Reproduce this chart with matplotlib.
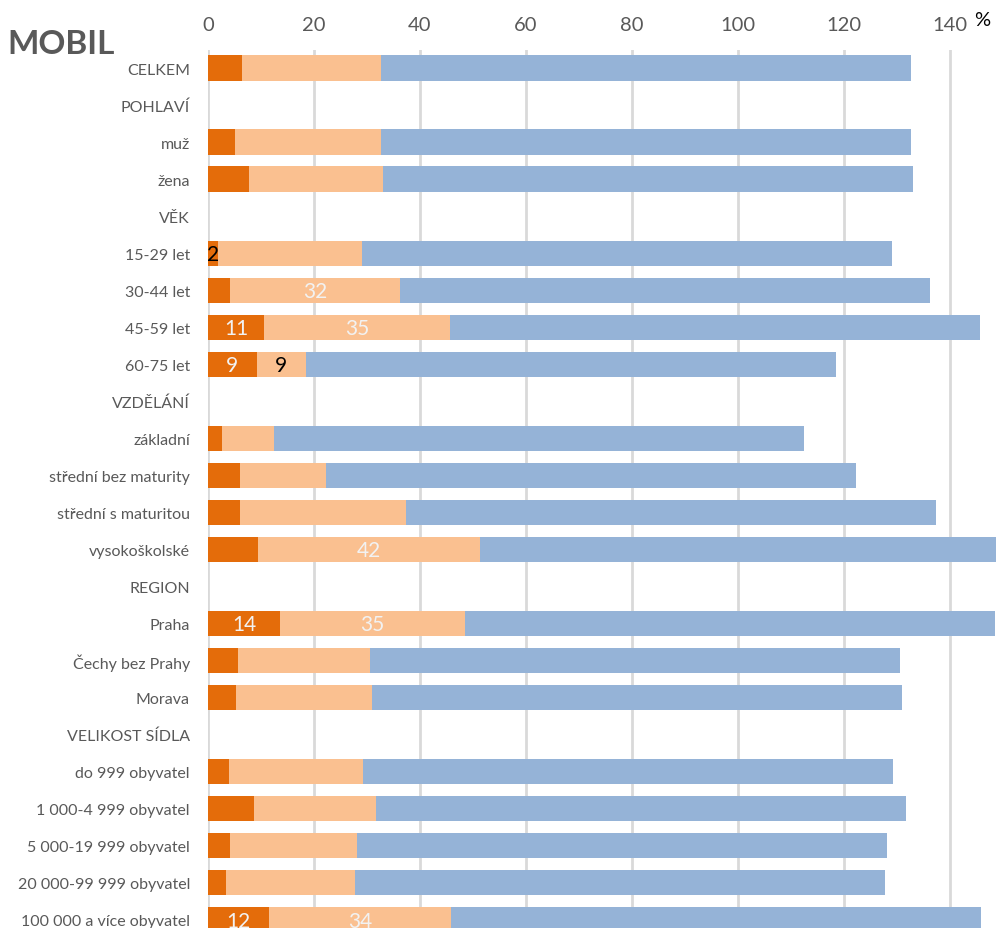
import matplotlib.pyplot as plt
import numpy as np

plt.rcParams['font.family'] = ['Lato', 'DejaVu Sans']

categories = ['CELKEM', 'POHLAVÍ', 'muž', 'žena', 'VĚK', '15-29 let', '30-44 let',
              '45-59 let', '60-75 let', 'VZDĚLÁNÍ', 'základní', 'střední bez maturity',
              'střední s maturitou', 'vysokoškolské', 'REGION', 'Praha',
              'Čechy bez Prahy', 'Morava', 'VELIKOST SÍDLA', 'do 999 obyvatel',
              '1 000-4 999 obyvatel', '5 000-19 999 obyvatel', '20 000-99 999 obyvatel',
              '100 000 a více obyvatel']
nan = np.nan
dark = [6.4, nan, 5.1, 7.8, nan, 1.9, 4.2, 10.6, 9.2, nan, 2.7, 6.0, 6.0, 9.5, nan,
        13.6, 5.7, 5.3, nan, 3.9, 8.7, 4.2, 3.4, 11.6]
light = [26.3, nan, 27.5, 25.3, nan, 27.2, 32.0, 35.1, 9.3, nan, 9.8, 16.3, 31.4, 41.9, nan,
         34.8, 24.9, 25.6, nan, 25.3, 23.0, 24.0, 24.3, 34.2]
blue = [100, nan, 100, 100, nan, 100, 100, 100, 100, nan, 100, 100, 100, 100, nan,
        100, 100, 100, nan, 100, 100, 100, 100, 100]
dark_labels = ['', '', '', '', '', '2', '', '11', '9', '', '', '', '', '', '',
               '14', '', '', '', '', '', '', '', '12']
light_labels = ['', '', '', '', '', '', '32', '35', '9', '', '', '', '', '42', '',
                '35', '', '', '', '', '', '', '', '34']
# black text for these labels, the rest is white
dark_black = ['2']
light_black_rows = [8]

c_dark = '#E46C0A'
c_light = '#FAC090'
c_blue = '#95B3D7'
grey = '#595959'

W, H = 996, 929
fig = plt.figure(figsize=(W / 100, H / 100), dpi=100)
px = 5.3  # pixels per percent
ax = fig.add_axes([208 / W, (929 - 939) / H, 150 * px / W, (939 - 50.5) / H])

y = np.arange(len(categories))
d = np.array(dark)
l = np.array(light)
b = np.array(blue)
h = 0.68
ax.barh(y, d, height=h, color=c_dark, zorder=3)
ax.barh(y, l, left=d, height=h, color=c_light, zorder=3)
ax.barh(y, b, left=d + l, height=h, color=c_blue, zorder=3)

for i in range(len(categories)):
    if dark_labels[i]:
        col = 'black' if dark_labels[i] in dark_black else '#F2F2F2'
        ax.text(d[i] / 2, y[i] + 0.03, dark_labels[i], ha='center', va='center',
                fontsize=15, color=col, zorder=4)
    if light_labels[i]:
        col = 'black' if i in light_black_rows else '#F2F2F2'
        ax.text(d[i] + l[i] / 2, y[i] + 0.03, light_labels[i], ha='center', va='center',
                fontsize=15, color=col, zorder=4)

ax.set_xlim(0, 150)
ax.set_ylim(len(categories) - 0.5, -0.5)
ax.set_yticks(y)
ax.set_yticklabels(categories, fontsize=11.5, color=grey)
ax.set_xticks(np.arange(0, 141, 20))
ax.xaxis.tick_top()
ax.tick_params(axis='x', labelsize=14.5, colors=grey, length=0, pad=12)
ax.tick_params(axis='y', length=0, pad=13)
ax.grid(axis='x', color='#D9D9D9', lw=2, zorder=0)
for s in ax.spines.values():
    s.set_visible(False)

fig.text(982 / W, 1 - 21 / H, '%', fontsize=14.5, color='black', ha='center', va='center')
fig.text(7 / W, 1 - 45 / H, 'MOBIL', fontsize=24, fontweight='bold', color=grey,
         ha='left', va='center')

fig.savefig('out.png', dpi=100)
